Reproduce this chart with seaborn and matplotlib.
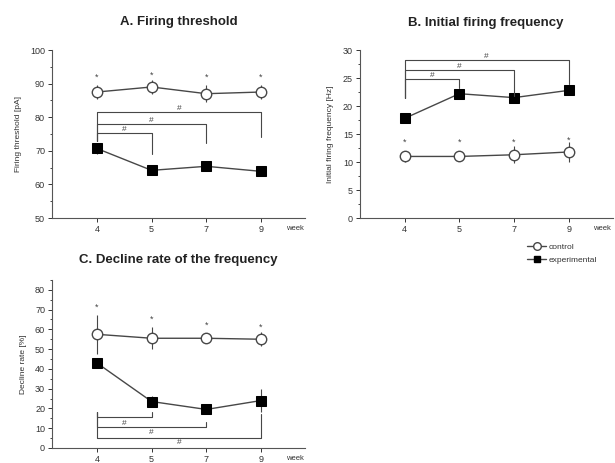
import matplotlib
matplotlib.use("Agg")
import matplotlib.pyplot as plt
from matplotlib.lines import Line2D
from matplotlib.ticker import AutoMinorLocator
import numpy as np
import pandas as pd
import seaborn as sns

weeks = ["4", "5", "7", "9"]

thr_ctrl = [87.5, 89.0, 87.0, 87.5]
thr_ctrl_err = [2.0, 2.0, 2.5, 2.0]
thr_exp = [70.7, 64.2, 65.4, 63.9]
thr_exp_err = [1.5, 1.0, 1.5, 1.0]

freq_ctrl = [11.0, 11.0, 11.3, 11.8]
freq_ctrl_err = [1.0, 0.8, 1.5, 1.8]
freq_exp = [17.8, 22.2, 21.5, 22.8]
freq_exp_err = [0.7, 0.6, 0.8, 0.6]

dec_ctrl = [57.5, 55.5, 55.5, 55.0]
dec_ctrl_err = [10.0, 5.5, 2.5, 3.5]
dec_exp = [43.0, 23.5, 19.5, 24.0]
dec_exp_err = [2.5, 3.0, 2.0, 6.0]

# brackets: (start idx, end idx, bar level, left end, right end)
thr_brackets = [(0, 3, 81.5, 73.0, 74.0), (0, 2, 78.0, 73.0, 72.3), (0, 1, 75.3, 73.0, 69.0)]
freq_brackets = [(0, 3, 28.3, 21.5, 24.0), (0, 2, 26.5, 21.5, 21.8), (0, 1, 24.8, 21.5, 23.2)]
dec_brackets = [(0, 1, 15.5, 18.0, 18.0), (0, 2, 10.5, 18.0, 13.0), (0, 3, 5.0, 18.0, 17.0)]
dec_hash = [(0.5, 12.5), (1.0, 7.8), (1.5, 2.6)]

star_thr = [92.0, 92.5, 92.0, 92.0]
star_freq = [13.6, 13.6, 13.6, 13.9]
star_dec = [71.0, 65.0, 62.0, 61.0]

sns.set_theme(style="ticks")
plt.rcParams["font.family"] = ["Liberation Sans", "DejaVu Sans"]

LINE = "#474747"
TXT = "#333333"
fig = plt.figure(figsize=(6.15, 4.63), dpi=100)


def draw_panel(ax, ctrl, ctrl_err, exp, exp_err, ylim, yticks, ylabel, title, pad):
    x = np.arange(len(weeks))
    df = pd.DataFrame({"x": np.concatenate([x, x]),
                       "y": ctrl + exp,
                       "group": ["control"] * 4 + ["experimental"] * 4})
    ax.errorbar(x, ctrl, yerr=ctrl_err, fmt="none", ecolor=LINE, elinewidth=0.8, capsize=0)
    ax.errorbar(x, exp, yerr=exp_err, fmt="none", ecolor=LINE, elinewidth=0.8, capsize=0)
    sns.lineplot(data=df[df.group == "control"], x="x", y="y", ax=ax, color=LINE, lw=1.0,
                 marker="o", markersize=7.5, markerfacecolor="white", markeredgecolor=LINE,
                 markeredgewidth=1.0, legend=False)
    sns.lineplot(data=df[df.group == "experimental"], x="x", y="y", ax=ax, color=LINE, lw=1.0,
                 marker="s", markersize=6.5, markerfacecolor="black", markeredgecolor="black",
                 legend=False)
    ax.set_xlim(-0.82, 3.8)
    ax.set_ylim(*ylim)
    ax.set_xticks(x)
    ax.set_xticklabels(weeks)
    ax.set_yticks(yticks)
    ax.yaxis.set_minor_locator(AutoMinorLocator(2))
    ax.tick_params(labelsize=6.5, length=3, width=0.7, colors=TXT, pad=2)
    ax.tick_params(which="minor", length=1.5, width=0.6)
    ax.set_xlabel("")
    ax.set_ylabel(ylabel, fontsize=6, color=TXT, labelpad=6)
    ax.set_title(title, fontsize=9.5, fontweight="bold", pad=pad, color="#222222")
    sns.despine(ax=ax)
    for sp in ax.spines.values():
        sp.set_linewidth(0.8)
        sp.set_color("#555555")
    ax.text(3.45, -0.06, "week", transform=ax.get_xaxis_transform(), fontsize=5.5,
            ha="left", va="center", color=TXT)


def draw_brackets(ax, brackets, hash_above=True, hash_pos=None):
    for a, b, lvl, lend, rend in brackets:
        ax.plot([a, a, b, b], [lend, lvl, lvl, rend], color=LINE, lw=0.8)
        if hash_above:
            ax.text((a + b) / 2, lvl, "#", fontsize=6, ha="center", va="bottom", color="#444444")
    if hash_pos is not None:
        for hx, hy in hash_pos:
            ax.text(hx, hy, "#", fontsize=6, ha="center", va="center", color="#444444")


def draw_stars(ax, levels):
    for i, lv in enumerate(levels):
        ax.text(i, lv, "*", fontsize=6.5, ha="center", va="center", color="#444444")


ax_a = fig.add_axes([0.0846, 0.529, 0.411, 0.363])
draw_panel(ax_a, thr_ctrl, thr_ctrl_err, thr_exp, thr_exp_err, (50, 100),
           range(50, 101, 10), "Firing threshold [pA]", "A. Firing threshold", 18)
draw_brackets(ax_a, thr_brackets)
draw_stars(ax_a, star_thr)

ax_b = fig.add_axes([0.585, 0.529, 0.411, 0.363])
draw_panel(ax_b, freq_ctrl, freq_ctrl_err, freq_exp, freq_exp_err, (0, 30),
           range(0, 31, 5), "Initial firing frequency [Hz]", "B. Initial firing frequency", 17)
draw_brackets(ax_b, freq_brackets)
draw_stars(ax_b, star_freq)

ax_c = fig.add_axes([0.0846, 0.0324, 0.411, 0.363])
draw_panel(ax_c, dec_ctrl, dec_ctrl_err, dec_exp, dec_exp_err, (0, 85),
           range(0, 81, 10), "Decline rate [%]", "C. Decline rate of the frequency", 12)
draw_brackets(ax_c, dec_brackets, hash_above=False, hash_pos=dec_hash)
draw_stars(ax_c, star_dec)

handles = [
    Line2D([], [], color=LINE, lw=1.0, marker="o", markersize=5.5, markerfacecolor="white",
           markeredgecolor=LINE),
    Line2D([], [], color=LINE, lw=1.0, marker="s", markersize=5, markerfacecolor="black",
           markeredgecolor="black"),
]
fig.legend(handles, ["control", "experimental"], loc="upper left",
           bbox_to_anchor=(0.848, 0.487), frameon=False, fontsize=6,
           handlelength=2.2, handletextpad=0.4, labelspacing=0.55, labelcolor=TXT,
           borderpad=0.2)

fig.savefig("out.png", dpi=100)
